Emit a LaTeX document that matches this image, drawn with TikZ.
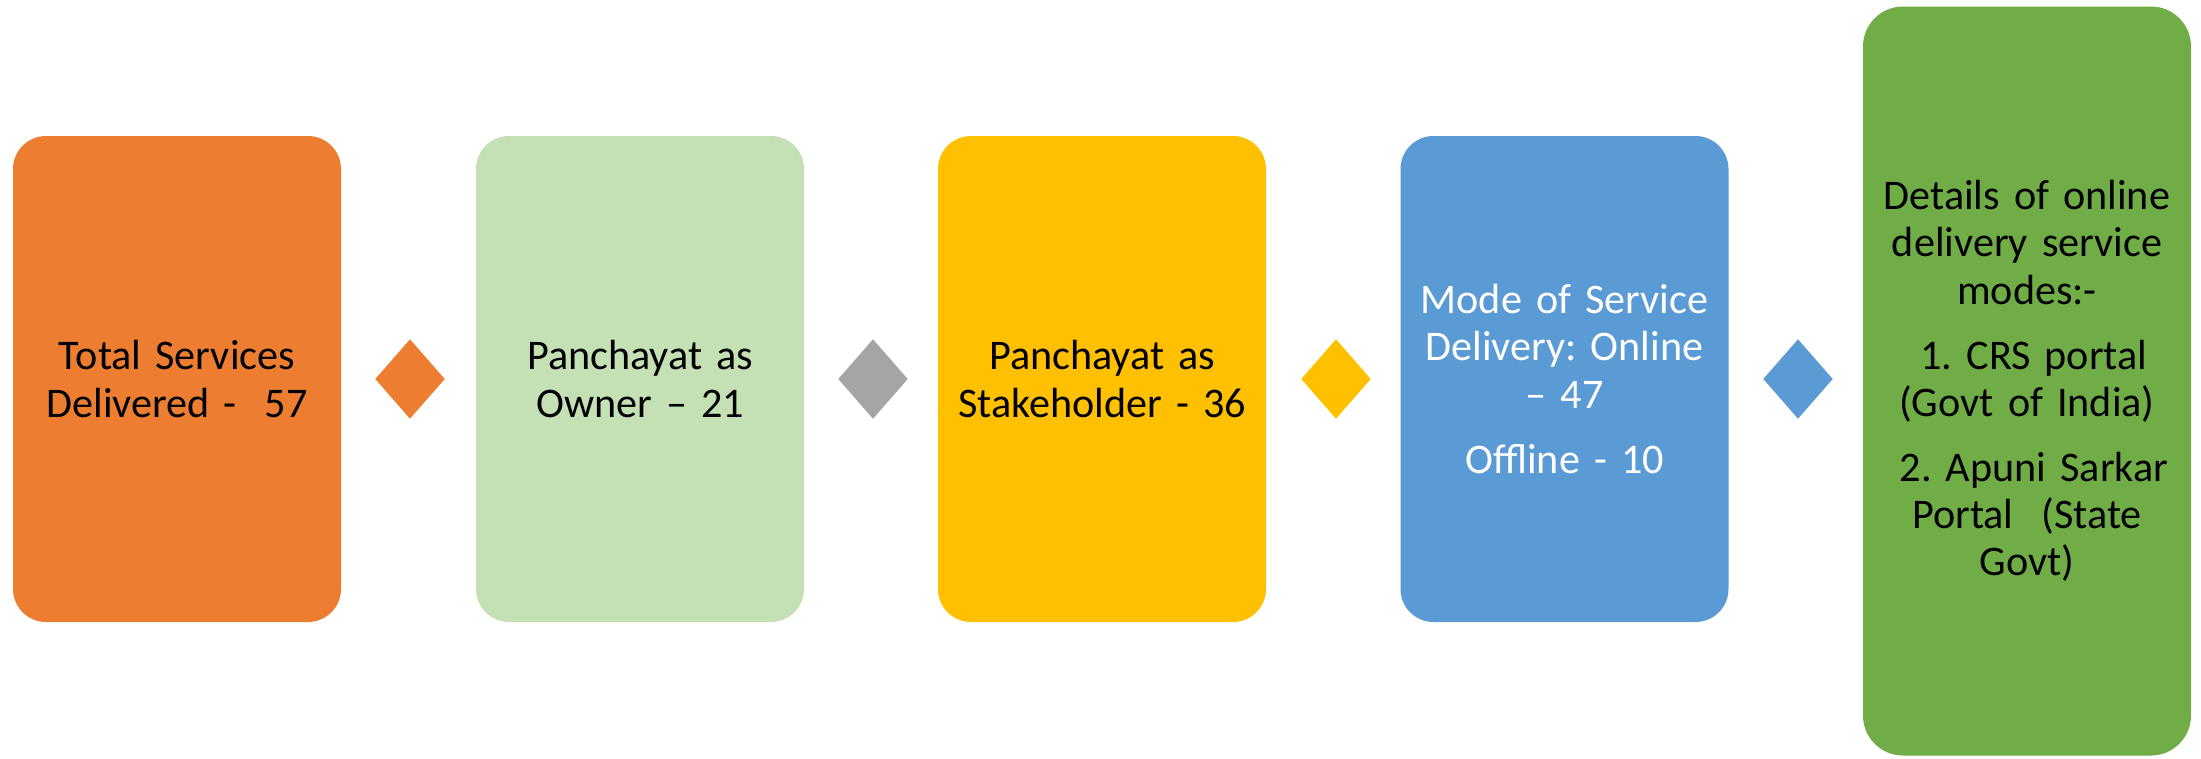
\documentclass[tikz,border=0pt]{standalone}
\usepackage{fontspec}
\setmainfont{Carlito}
\usepackage{xcolor}
\usepackage{tikz}
\usetikzlibrary{shapes.geometric}
\frenchspacing

\definecolor{borange}{HTML}{ED7D31}
\definecolor{bpale}{HTML}{C5E0B4}
\definecolor{bgold}{HTML}{FFC000}
\definecolor{bblue}{HTML}{5B9BD5}
\definecolor{bgreen}{HTML}{70AD47}
\definecolor{bgray}{HTML}{A5A5A5}

\tikzset{
	card/.style={rounded corners=0.33cm, minimum width=3.28cm, minimum height=4.86cm,
		text width=3.1cm, align=center, inner sep=0pt,
		font=\fontsize{12}{13.4}\selectfont},
	gem/.style={diamond, aspect=0.875, minimum width=0.7cm, minimum height=0.8cm, inner sep=0pt}
}

\begin{document}
\begin{tikzpicture}
		\useasboundingbox (0,0) rectangle (22.01,7.58);
		
		\node[card, fill=borange] (total) at (1.77,3.79) {Total Services\\Delivered -\ \ 57};
		\node[card, fill=bpale] (owner) at (6.40,3.79) {Panchayat as\\Owner -- 21};
		\node[card, fill=bgold] (stake) at (11.02,3.79) {Panchayat as\\Stakeholder - 36};
		\node[card, fill=bblue, text=white] (mode) at (15.645,3.79) {Mode of Service\\Delivery: Online\\-- 47\\[0.18cm]Offline - 10};
		\node[card, fill=bgreen, minimum height=7.49cm, rounded corners=0.4cm] (detail) at (20.27,3.77)
			{Details of online\\delivery service\\modes:-\\[0.18cm]\ 1. CRS portal\\(Govt of India)\\[0.18cm]\ 2. Apuni Sarkar\\Portal\ \ (State\\Govt)};
		
		\foreach \x/\c/\n in {4.10/borange/g1, 8.73/bgray/g2, 13.36/bgold/g3, 17.98/bblue/g4}{
			\node[gem, fill=\c] (\n) at (\x,3.79) {};
		}
	\end{tikzpicture}
\end{document}
